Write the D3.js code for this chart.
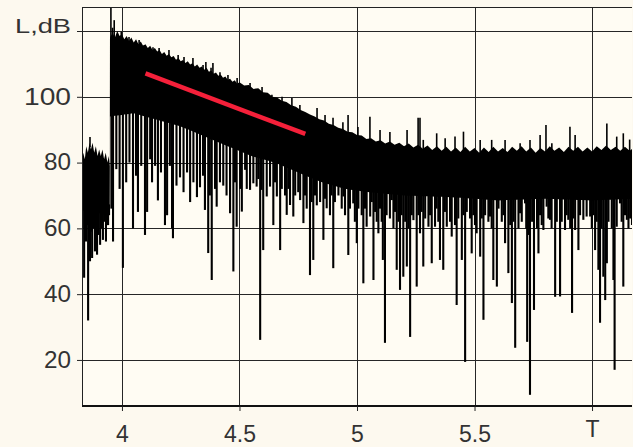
<!DOCTYPE html>
<html>
<head>
<meta charset="utf-8">
<script src="https://cdn.jsdelivr.net/npm/d3@7"></script>
<style>
  html, body { margin: 0; padding: 0; background: #fdf9ef; }
  svg { display: block; }
</style>
</head>
<body>
<div id="chart"></div>
<script>
// canvas
const width = 633;
const height = 447;

// tick values and their labels
const xTicks = [4, 4.5, 5, 5.5, 6];
const xTickLabels = ["4", "4.5", "5", "5.5", "T"];
const yTicks = [20, 40, 60, 80, 100, 120];
const yTickLabels = ["20", "40", "60", "80", "100", ""];

// top edge of the trace [T, L dB]
const upper = [
  [3.830, 80], [3.835, 83], [3.842, 81], [3.848, 85], [3.855, 83], [3.862, 86], [3.868, 84], [3.875, 86],
  [3.882, 83], [3.889, 85], [3.896, 82], [3.903, 84], [3.910, 82], [3.917, 84], [3.924, 81], [3.931, 83],
  [3.938, 80], [3.944, 82], [3.948, 79],
  [3.949, 118], [3.96, 119.5], [3.97, 118], [3.98, 120], [3.99, 118.5], [4.00, 119], [4.01, 117.5],
  [4.02, 118.5], [4.03, 117], [4.04, 118], [4.05, 116.5], [4.06, 117.5], [4.07, 116], [4.08, 116.8],
  [4.09, 115.5], [4.10, 116], [4.11, 114.8], [4.12, 115.5], [4.13, 114.2], [4.14, 114.8], [4.15, 113.8],
  [4.16, 114.2], [4.17, 113], [4.18, 113.6], [4.19, 112.5], [4.20, 113], [4.21, 112], [4.22, 112.4],
  [4.23, 111.3], [4.24, 111.8], [4.25, 110.8], [4.26, 111.2], [4.27, 110.3], [4.28, 110.8], [4.29, 109.8],
  [4.30, 110.2], [4.31, 109.2], [4.32, 109.8], [4.33, 108.8], [4.34, 109.2], [4.35, 108.2], [4.36, 108.8],
  [4.37, 107.6], [4.38, 108], [4.39, 107], [4.40, 107.4], [4.41, 106.4], [4.42, 106.8], [4.43, 105.8],
  [4.44, 106.2], [4.45, 105.2], [4.46, 105.5], [4.47, 104.6], [4.48, 105], [4.49, 104], [4.50, 104.4],
  [4.52, 103.4], [4.54, 103.6], [4.56, 102.4], [4.58, 102.6], [4.60, 101.4], [4.62, 101.2], [4.64, 100],
  [4.66, 99.8], [4.68, 98.8], [4.70, 98.4], [4.72, 97.4], [4.74, 97], [4.76, 96], [4.78, 95.4], [4.80, 94.6],
  [4.82, 94], [4.84, 93.2], [4.86, 92.8], [4.88, 91.8], [4.90, 91.4], [4.92, 90.6], [4.94, 90.2], [4.96, 89.4],
  [4.98, 89.2], [5.00, 88.4], [5.02, 88.2], [5.04, 87.2], [5.06, 87.4], [5.08, 86.4], [5.10, 86.8], [5.12, 85.8],
  [5.14, 86.4], [5.16, 85.4], [5.18, 86], [5.20, 85], [5.22, 85.8], [5.24, 84.6], [5.26, 85.4], [5.28, 84.2],
  [5.30, 85.2], [5.32, 83.8], [5.34, 85], [5.36, 83.6], [5.38, 84.8], [5.40, 83.4], [5.42, 84.6], [5.44, 83.2],
  [5.46, 84.8], [5.48, 83.4], [5.50, 84.4], [5.52, 83], [5.54, 84.6], [5.56, 83.2], [5.58, 84.8], [5.60, 83.4],
  [5.62, 84.4], [5.64, 83.2], [5.66, 84.8], [5.68, 83.6], [5.70, 85], [5.72, 83.4], [5.74, 84.6], [5.76, 83],
  [5.78, 84.4], [5.80, 83.4], [5.82, 85], [5.84, 83.6], [5.86, 84.6], [5.88, 83.2], [5.90, 84.8], [5.92, 83.6],
  [5.94, 84.8], [5.96, 83.4], [5.98, 84.6], [6.00, 83.4], [6.02, 85], [6.04, 83.8], [6.06, 85.2], [6.08, 83.8],
  [6.10, 84.8], [6.12, 83.6], [6.14, 84.8], [6.16, 83.6], [6.175, 84.4]
];

// bottom of the dense band
const lower = [
  [3.830, 66], [3.860, 63], [3.890, 65], [3.920, 64], [3.948, 67], [3.949, 94], [4.05, 95], [4.15, 93],
  [4.25, 91], [4.35, 88], [4.45, 85], [4.55, 82], [4.65, 80], [4.75, 77], [4.85, 74], [4.95, 72],
  [5.05, 71], [5.20, 70], [5.40, 69.5], [5.60, 68.5], [5.80, 69], [6.00, 68.5], [6.175, 69]
];

// downward spikes [T, L dB]
const dips = [
  [3.832, 60], [3.839, 45], [3.843, 58], [3.847, 56], [3.851, 61], [3.856, 32], [3.860, 57], [3.864, 50],
  [3.868, 59], [3.873, 51], [3.878, 60], [3.885, 53], [3.889, 61], [3.894, 52], [3.900, 58], [3.907, 55],
  [3.913, 60], [3.919, 56.5], [3.925, 62], [3.932, 56], [3.937, 61], [3.941, 61], [3.945, 64],
  [3.955, 66], [3.962, 56], [3.976, 78], [3.990, 72], [4.004, 48], [4.018, 74], [4.032, 80], [4.047, 60],
  [4.060, 76], [4.068, 65], [4.082, 79], [4.098, 58], [4.107, 65], [4.120, 81], [4.128, 74], [4.141, 79],
  [4.153, 68.5], [4.166, 77], [4.183, 61], [4.192, 64], [4.204, 79], [4.213, 60], [4.217, 57], [4.232, 73],
  [4.247, 75.5], [4.262, 71], [4.277, 77], [4.290, 68], [4.304, 74], [4.319, 69.5], [4.332, 72.5], [4.345, 76],
  [4.353, 65.6], [4.367, 52.5], [4.374, 70], [4.382, 44.3], [4.396, 72], [4.403, 66.6], [4.417, 74],
  [4.431, 73], [4.445, 70], [4.460, 64.6], [4.474, 46.9], [4.481, 74], [4.488, 60.5], [4.503, 72], [4.510, 65.1],
  [4.524, 77.8], [4.531, 72], [4.545, 71.7], [4.559, 73.7], [4.573, 72.7], [4.580, 75], [4.588, 26.1],
  [4.594, 71.7], [4.601, 53.4], [4.616, 69.7], [4.630, 72.7], [4.644, 61], [4.651, 74], [4.659, 69.7],
  [4.673, 53.4], [4.680, 72], [4.694, 70], [4.701, 64.1], [4.708, 72], [4.715, 67.1], [4.729, 63.6], [4.737, 70],
  [4.750, 71], [4.758, 68.6], [4.772, 61.6], [4.779, 70], [4.786, 66], [4.800, 45.8], [4.807, 68], [4.814, 50.4],
  [4.821, 70], [4.829, 67], [4.843, 68], [4.857, 56.5], [4.864, 69], [4.871, 66.1], [4.885, 64], [4.892, 70],
  [4.899, 47.9], [4.906, 68], [4.921, 70], [4.935, 66], [4.942, 69.7], [4.949, 64], [4.963, 51.9], [4.970, 66],
  [4.984, 67.6], [4.991, 62], [4.999, 55.5], [5.006, 66], [5.020, 64], [5.027, 43.3], [5.034, 66], [5.041, 60.5],
  [5.056, 63.6], [5.063, 68], [5.070, 44.3], [5.077, 65], [5.084, 62], [5.091, 58.5], [5.098, 66], [5.105, 62],
  [5.110, 50.4], [5.119, 25.2], [5.126, 64], [5.140, 63], [5.148, 68.6], [5.155, 60], [5.162, 65],
  [5.169, 47.4], [5.176, 62], [5.183, 41.3], [5.190, 64], [5.197, 45.3], [5.205, 62], [5.212, 48.4], [5.219, 60],
  [5.226, 27], [5.233, 64], [5.240, 62.5], [5.254, 42.3], [5.261, 64], [5.268, 58.5], [5.275, 65],
  [5.282, 48.4], [5.290, 63], [5.304, 60.5], [5.311, 64], [5.318, 49.4], [5.332, 60.5],
  [5.339, 66], [5.346, 62], [5.353, 50.4], [5.367, 47.4], [5.374, 65], [5.382, 60.5],
  [5.396, 62], [5.403, 57.5], [5.417, 61], [5.424, 36.7], [5.431, 63], [5.446, 50.4],
  [5.453, 64], [5.460, 19.4], [5.467, 65], [5.481, 63], [5.488, 52.4], [5.495, 64], [5.502, 61],
  [5.509, 58.5], [5.524, 51.4], [5.531, 63], [5.538, 32.2], [5.545, 64], [5.559, 62],
  [5.566, 63.6], [5.573, 60], [5.580, 44.3], [5.595, 42.3], [5.602, 66], [5.616, 62],
  [5.623, 64], [5.630, 55.5], [5.644, 46.4], [5.652, 61], [5.659, 37.3], [5.666, 62], [5.673, 23.7],
  [5.687, 60], [5.694, 64.6], [5.701, 62], [5.715, 67.6], [5.720, 60], [5.724, 25.5],
  [5.730, 58], [5.736, 9.4], [5.745, 62], [5.753, 35.2], [5.766, 60], [5.772, 52.4], [5.779, 64],
  [5.786, 61], [5.793, 59.5], [5.807, 66.6], [5.814, 63], [5.821, 62.6], [5.828, 60],
  [5.843, 39.2], [5.850, 62], [5.864, 39.3], [5.871, 62], [5.885, 59.5], [5.892, 64],
  [5.899, 62.6], [5.907, 60], [5.915, 34.3], [5.921, 63], [5.928, 59.5], [5.942, 53.4], [5.949, 64],
  [5.963, 62.6], [5.977, 63.6], [5.992, 63.6], [5.999, 60], [6.006, 64],
  [6.013, 53.4], [6.020, 62], [6.027, 47.4], [6.034, 31.3], [6.041, 60], [6.048, 45.3], [6.056, 38.2],
  [6.063, 49.4], [6.070, 62], [6.084, 60], [6.091, 44.3], [6.096, 17], [6.105, 60.5],
  [6.119, 67.6], [6.126, 62], [6.133, 42.3], [6.140, 64], [6.148, 62.6], [6.155, 60], [6.162, 63], [6.170, 61]
];

// upward spikes above the top edge
const peaks = [
  [3.864, 87.8], [3.953, 128], [3.960, 121], [3.967, 123.3], [3.997, 119.8], [4.030, 118.2], [4.073, 117.3],
  [4.094, 115.7], [4.132, 115.1], [4.158, 114.8], [4.200, 114.2], [4.239, 112.7], [4.264, 112.1], [4.302, 111.8],
  [4.345, 109.7], [4.357, 110.6], [4.379, 108.8], [4.387, 110.3], [4.417, 107.5], [4.451, 106.6], [4.490, 105.7],
  [4.545, 104.2], [4.596, 103], [4.638, 100.6], [4.681, 100], [4.723, 99.6], [4.757, 97.5], [4.830, 96.6],
  [4.864, 94.5], [4.898, 93.6], [4.940, 92.3], [4.962, 94.5], [5.004, 90.8], [5.055, 93.9], [5.098, 89.9],
  [5.140, 89.3], [5.213, 89.9], [5.260, 93.6], [5.268, 93.6], [5.282, 86.9], [5.339, 88.9], [5.375, 87.4],
  [5.417, 87.9], [5.453, 89.4], [5.524, 86.9], [5.573, 86.9], [5.630, 86.9], [5.694, 85.9], [5.736, 86.9],
  [5.779, 88.4], [5.804, 91.4], [5.829, 85.9], [5.906, 90.9], [5.928, 88.4], [6.063, 91.9], [6.105, 87.9],
  [6.133, 88.9], [6.160, 87]
];

// red fitted decay line
const fitT = [4.10, 4.78];
const fitL = [107.1, 88.7];

const svg = d3.select("#chart")
  .append("svg")
  .attr("width", width)
  .attr("height", height);

const plot = {left: 82, right: 632, top: 7, bottom: 406};

const x = d3.scaleLinear().domain([3.83, 6.17]).range([plot.left, plot.right]);
const y = d3.scaleLinear().domain([6, 127.3]).range([plot.bottom, plot.top]);

// piecewise lookups along the trace edges
const topAt = d3.scaleLinear().domain(upper.map(d => d[0])).range(upper.map(d => d[1])).clamp(true);
const lowAt = d3.scaleLinear().domain(lower.map(d => d[0])).range(lower.map(d => d[1])).clamp(true);

svg.append("rect")
  .attr("x", plot.left).attr("y", plot.top)
  .attr("width", plot.right - plot.left).attr("height", plot.bottom - plot.top)
  .attr("fill", "#fffcf3");

svg.append("clipPath").attr("id", "clip")
  .append("rect")
  .attr("x", plot.left).attr("y", plot.top)
  .attr("width", plot.right - plot.left).attr("height", plot.bottom - plot.top);

// grid
const grid = svg.append("g").attr("stroke", "#262626").attr("stroke-width", 1).attr("shape-rendering", "crispEdges");
grid.selectAll(".hg").data(yTicks).enter().append("line")
  .attr("x1", plot.left).attr("x2", plot.right)
  .attr("y1", d => Math.round(y(d)) + 0.5).attr("y2", d => Math.round(y(d)) + 0.5);
grid.selectAll(".vg").data(xTicks).enter().append("line")
  .attr("y1", plot.top).attr("y2", plot.bottom)
  .attr("x1", d => Math.round(x(d)) + 0.5).attr("x2", d => Math.round(x(d)) + 0.5);

// trace
const trace = svg.append("g").attr("clip-path", "url(#clip)");

trace.append("path")
  .datum(upper)
  .attr("fill", "#000")
  .attr("d", d3.area()
    .x(d => x(d[0]))
    .y0(d => y(lowAt(d[0])))
    .y1(d => y(d[1])));

trace.selectAll(".dip").data(dips).enter().append("line")
  .attr("x1", d => x(d[0])).attr("x2", d => x(d[0]))
  .attr("y1", d => y(lowAt(d[0])) - 2)
  .attr("y2", d => y(d[1]))
  .attr("stroke", "#000").attr("stroke-width", 2.1);

trace.selectAll(".peak").data(peaks).enter().append("line")
  .attr("x1", d => x(d[0])).attr("x2", d => x(d[0]))
  .attr("y1", d => y(topAt(d[0])) + 2)
  .attr("y2", d => y(d[1]))
  .attr("stroke", "#000").attr("stroke-width", 1.6);

// red line
svg.append("path")
  .datum(fitT.map((t, i) => [t, fitL[i]]))
  .attr("fill", "none")
  .attr("stroke", "#f5203a")
  .attr("stroke-width", 4.5)
  .attr("d", d3.line().x(d => x(d[0])).y(d => y(d[1])));

// frame
svg.append("line").attr("x1", plot.left + 0.5).attr("x2", plot.left + 0.5)
  .attr("y1", plot.top).attr("y2", plot.bottom).attr("stroke", "#222");
svg.append("line").attr("x1", plot.left).attr("x2", plot.right)
  .attr("y1", plot.top + 0.5).attr("y2", plot.top + 0.5).attr("stroke", "#222");

// axes
const yAxis = svg.append("g")
  .attr("transform", `translate(${plot.left},0)`)
  .call(d3.axisLeft(y).tickValues(yTicks).tickSize(5).tickPadding(6)
    .tickFormat((d, i) => yTickLabels[i]));
yAxis.select(".domain").remove();
yAxis.selectAll("line").attr("stroke", "#222");
yAxis.selectAll("text")
  .attr("font-family", "Liberation Sans, Arial, sans-serif")
  .attr("font-size", "23px")
  .attr("fill", "#333")
  .attr("textLength", d => d >= 100 ? 47 : 27)
  .attr("lengthAdjust", "spacingAndGlyphs");

const xAxis = svg.append("g")
  .attr("transform", `translate(0,${plot.bottom})`)
  .call(d3.axisBottom(x).tickValues(xTicks).tickSize(5)
    .tickFormat((d, i) => xTickLabels[i]));
xAxis.select(".domain").attr("stroke", "#111").attr("stroke-width", 2.2)
  .attr("d", `M${plot.left},0H${plot.right}`);
xAxis.selectAll("line").attr("stroke", "#222");
xAxis.selectAll("text")
  .attr("font-family", "Liberation Sans, Arial, sans-serif")
  .attr("font-size", "23px")
  .attr("fill", "#333")
  .attr("dy", 0)
  .attr("y", (d, i) => xTickLabels[i] === "T" ? 31 : 36);

// axis title
svg.append("text")
  .attr("x", 71).attr("y", 33)
  .attr("text-anchor", "end")
  .attr("font-family", "Liberation Sans, Arial, sans-serif")
  .attr("font-size", "21px")
  .attr("fill", "#333")
  .attr("textLength", 56)
  .attr("lengthAdjust", "spacingAndGlyphs")
  .text("L,dB");
</script>
</body>
</html>
